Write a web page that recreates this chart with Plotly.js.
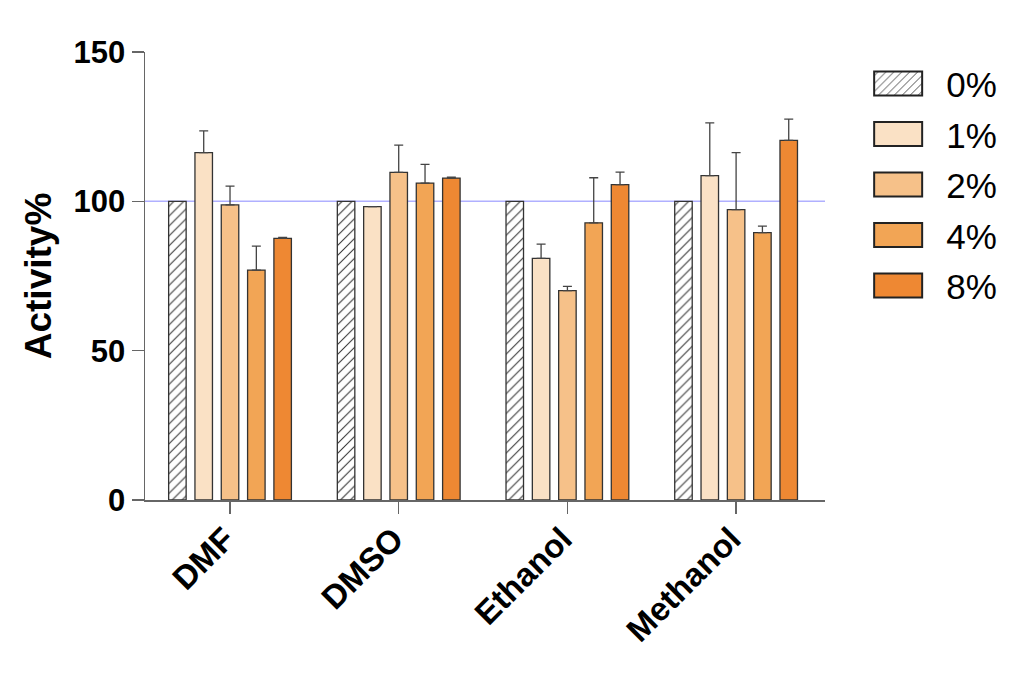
<!DOCTYPE html>
<html>
<head>
<meta charset="utf-8">
<script src="https://cdn.plot.ly/plotly-3.0.1.min.js"></script>
<style>
  html, body { margin: 0; padding: 0; background: #fff; }
  #chart { width: 1024px; height: 673px; }
</style>
</head>
<body>
<div id="chart"></div>
<script>
const categories = ["DMF", "DMSO", "Ethanol", "Methanol"];
const seriesNames = ["0%", "1%", "2%", "4%", "8%"];

const v0 = [100, 100, 100, 100];
const v1 = [116.3, 98.2, 80.9, 108.6];
const v2 = [98.8, 109.7, 70.1, 97.2];
const v4 = [77.0, 106.1, 92.8, 89.5];
const v8 = [87.6, 107.8, 105.6, 120.4];

const e0 = [0, 0, 0, 0];
const e1 = [7.3, 0, 4.8, 17.7];
const e2 = [6.3, 9.1, 1.4, 19.1];
const e4 = [8.0, 6.3, 15.1, 2.2];
const e8 = [0.3, 0.3, 4.2, 7.1];

const values = [v0, v1, v2, v4, v8];
const errors = [e0, e1, e2, e4, e8];
const colors = ["#ffffff", "#FAE1C5", "#F6C189", "#F2A555", "#EE8833"];

const traces = seriesNames.map((name, i) => {
  const marker = {
    color: colors[i],
    line: { color: "#333333", width: 1.3 }
  };
  if (i === 0) {
    marker.pattern = { shape: "/", fgcolor: "#333333", bgcolor: "#ffffff", size: 7, solidity: 0.15 };
  }
  return {
    type: "bar",
    name: name,
    legendgroup: "g" + i,
    x: categories,
    y: values[i],
    marker: marker,
    error_y: {
      type: "data",
      symmetric: false,
      array: errors[i],
      arrayminus: errors[i].map(() => 0),
      visible: i !== 0,
      color: "#444444",
      thickness: 1.3,
      width: 4.5
    }
  };
});

const layout = {
  width: 1024,
  height: 673,
  margin: { l: 145, r: 199, t: 52, b: 173 },
  paper_bgcolor: "#ffffff",
  plot_bgcolor: "#ffffff",
  barmode: "group",
  bargap: 0.22,
  bargroupgap: 0.335,
  font: { family: "Liberation Sans, Arial, sans-serif", color: "#000000" },
  showlegend: true,
  legend: {
    x: 1.037, xanchor: "left",
    y: 0.995, yanchor: "top",
    font: { size: 35, color: "#000000" },
    traceorder: "grouped",
    tracegroupgap: 2,
    itemwidth: 86,
    bgcolor: "rgba(0,0,0,0)"
  },
  xaxis: {
    type: "category",
    range: [-0.504, 3.527],
    showline: true,
    linecolor: "#666666",
    linewidth: 1.5,
    ticks: "outside",
    ticklen: 12,
    tickwidth: 1.5,
    tickcolor: "#666666",
    tickangle: -45,
    ticklabelstandoff: -7,
    ticklabelshift: -5,
    tickfont: { size: 33, family: "Liberation Sans, Arial, sans-serif", weight: "bold" },
    showgrid: false,
    zeroline: false
  },
  yaxis: {
    range: [0, 150],
    tickvals: [0, 50, 100, 150],
    ticktext: ["<b>0</b>", "<b>50</b>", "<b>100</b>", "<b>150</b>"],
    showline: true,
    linecolor: "#666666",
    linewidth: 1.5,
    ticks: "outside",
    ticklen: 12,
    tickwidth: 1.5,
    tickcolor: "#666666",
    tickfont: { size: 31 },
    showgrid: false,
    zeroline: false,
    title: { text: "<b>Activity%</b>", font: { size: 37 }, standoff: 10 }
  },
  shapes: [{
    type: "line", xref: "paper", yref: "y",
    x0: 0, x1: 1, y0: 100, y1: 100,
    line: { color: "#B0B0FF", width: 1.5 },
    layer: "below"
  }]
};

function widenSwatches() {
  const paths = document.querySelectorAll("#chart .legend .legendpoints path");
  paths.forEach(p => {
    p.setAttribute("d", "M24,12H-24V-12H24Z");
    p.style.strokeWidth = "2px";
    p.style.stroke = "#222222";
  });
}

Plotly.newPlot("chart", traces, layout, { staticPlot: true, displayModeBar: false }).then(gd => {
  widenSwatches();
  gd.on("plotly_afterplot", widenSwatches);
});
</script>
</body>
</html>
